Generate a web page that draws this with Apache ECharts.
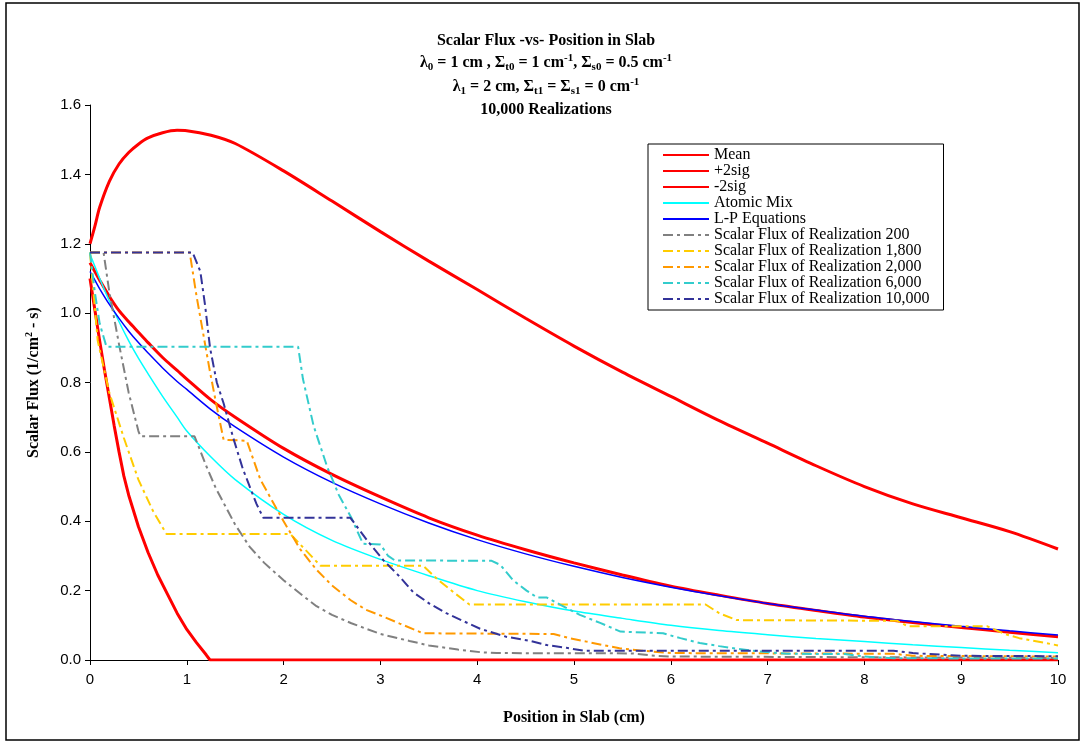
<!DOCTYPE html>
<html>
<head>
<meta charset="utf-8">
<title>Scalar Flux -vs- Position in Slab</title>
<script src="https://cdn.jsdelivr.net/npm/echarts@6/dist/echarts.min.js"></script>
<style>
html, body { margin: 0; padding: 0; background: #fff; }
#chart { width: 1084px; height: 744px; }
</style>
</head>
<body>
<div id="chart"></div>
<script>
// positions (cm) used by the smooth curves
var xGrid = [0, 0.05, 0.1, 0.2, 0.3, 0.4, 0.5, 0.6, 0.75, 0.9, 1, 1.25, 1.5, 2, 2.5, 3, 3.5, 4, 4.5, 5, 5.5, 6, 6.5, 7, 7.5, 8, 8.5, 9, 9.5, 10];
var meanFlux = [1.145, 1.12, 1.095, 1.048, 1.007, 0.975, 0.945, 0.915, 0.872, 0.835, 0.81, 0.75, 0.70, 0.61, 0.535, 0.47, 0.41, 0.36, 0.318, 0.28, 0.245, 0.213, 0.187, 0.163, 0.143, 0.124, 0.108, 0.094, 0.08, 0.067];
var plus2sig = [1.20, 1.25, 1.305, 1.38, 1.43, 1.463, 1.487, 1.505, 1.52, 1.527, 1.526, 1.513, 1.489, 1.41, 1.323, 1.235, 1.15, 1.068, 0.985, 0.905, 0.83, 0.76, 0.69, 0.625, 0.56, 0.50, 0.45, 0.41, 0.37, 0.32];
var atomicMix = [1.17, 1.135, 1.10, 1.035, 0.975, 0.92, 0.87, 0.825, 0.76, 0.70, 0.66, 0.585, 0.52, 0.42, 0.345, 0.29, 0.243, 0.20, 0.168, 0.141, 0.12, 0.10, 0.085, 0.073, 0.062, 0.053, 0.044, 0.036, 0.028, 0.021];
var lpEquations = [1.12, 1.095, 1.07, 1.025, 0.985, 0.948, 0.915, 0.885, 0.842, 0.803, 0.78, 0.722, 0.672, 0.585, 0.512, 0.45, 0.395, 0.347, 0.306, 0.27, 0.238, 0.21, 0.185, 0.163, 0.144, 0.126, 0.111, 0.097, 0.084, 0.072];

// -2sig is cut off at zero
var minus2sigX = [0, 0.05, 0.1, 0.15, 0.2, 0.25, 0.3, 0.35, 0.4, 0.5, 0.6, 0.7, 0.8, 0.9, 1.0, 1.1, 1.2, 1.24, 10];
var minus2sigY = [1.10, 1.01, 0.92, 0.835, 0.755, 0.675, 0.60, 0.53, 0.475, 0.385, 0.31, 0.245, 0.19, 0.135, 0.088, 0.05, 0.015, 0, 0];

// single realizations
var real200X = [0, 0.14, 0.2, 0.3, 0.4, 0.5, 0.52, 1.08, 1.2, 1.3, 1.5, 1.65, 1.8, 2.0, 2.2, 2.34, 2.5, 2.7, 3.0, 3.3, 3.5, 3.8, 4.05, 4.2, 5.6, 5.8, 6.0, 10];
var real200Y = [1.175, 1.175, 1.06, 0.91, 0.77, 0.66, 0.645, 0.645, 0.56, 0.495, 0.39, 0.326, 0.28, 0.23, 0.185, 0.155, 0.13, 0.106, 0.075, 0.055, 0.042, 0.03, 0.022, 0.02, 0.019, 0.013, 0.01, 0.006];

var real1800X = [0, 0.08, 0.2, 0.35, 0.5, 0.65, 0.79, 2.07, 2.2, 2.38, 3.44, 3.6, 3.78, 3.92, 6.36, 6.5, 6.68, 8.34, 8.45, 9.27, 9.45, 9.6, 9.85, 10];
var real1800Y = [1.175, 0.92, 0.77, 0.64, 0.52, 0.43, 0.363, 0.363, 0.325, 0.272, 0.272, 0.23, 0.19, 0.16, 0.16, 0.135, 0.115, 0.113, 0.097, 0.097, 0.075, 0.063, 0.05, 0.042];

var real2000X = [0, 1.03, 1.1, 1.17, 1.24, 1.31, 1.38, 1.62, 1.76, 1.9, 2.0, 2.17, 2.34, 2.5, 2.69, 2.85, 3.03, 3.2, 3.44, 4.79, 4.95, 5.13, 5.3, 5.47, 5.7, 6.0, 8.3, 8.5, 10];
var real2000Y = [1.175, 1.175, 1.05, 0.94, 0.83, 0.73, 0.635, 0.632, 0.52, 0.45, 0.40, 0.32, 0.26, 0.215, 0.173, 0.145, 0.125, 0.105, 0.077, 0.075, 0.063, 0.053, 0.043, 0.034, 0.027, 0.02, 0.018, 0.012, 0.01];

var real6000X = [0, 0.05, 0.1, 0.17, 2.15, 2.2, 2.31, 2.45, 2.57, 2.7, 2.82, 3.0, 3.08, 3.15, 4.15, 4.24, 4.37, 4.51, 4.62, 4.72, 4.86, 5.06, 5.27, 5.48, 5.5, 5.92, 6.1, 6.3, 6.5, 6.7, 6.9, 7.2, 7.8, 8.0, 8.3, 10];
var real6000Y = [1.175, 1.06, 0.97, 0.903, 0.903, 0.81, 0.675, 0.557, 0.476, 0.41, 0.335, 0.333, 0.3, 0.287, 0.286, 0.274, 0.23, 0.2, 0.18, 0.18, 0.159, 0.13, 0.107, 0.082, 0.077, 0.077, 0.063, 0.049, 0.04, 0.032, 0.025, 0.018, 0.017, 0.01, 0.005, 0.004];

var real10000X = [0, 1.06, 1.14, 1.19, 1.24, 1.31, 1.38, 1.48, 1.58, 1.72, 1.79, 2.69, 2.86, 3.03, 3.2, 3.34, 3.51, 3.68, 4.03, 4.3, 4.55, 4.72, 4.92, 5.1, 8.3, 8.5, 9.0, 10];
var real10000Y = [1.175, 1.175, 1.12, 1.02, 0.90, 0.80, 0.74, 0.64, 0.55, 0.45, 0.41, 0.41, 0.346, 0.288, 0.24, 0.195, 0.162, 0.135, 0.09, 0.067, 0.055, 0.043, 0.035, 0.027, 0.027, 0.02, 0.012, 0.011];

var serif = '"Liberation Serif", "Times New Roman", serif';
var sans = '"Liberation Sans", Arial, sans-serif';
var dashDot = [10, 4, 3, 4];

function pairs(xs, ys) {
  return xs.map(function (x, i) { return [x, ys[i]]; });
}

function solid(name, xs, ys, color, width, smooth) {
  return {
    name: name, type: 'line', data: pairs(xs, ys),
    symbol: 'none', smooth: smooth, silent: true,
    lineStyle: { color: color, width: width }, itemStyle: { color: color }
  };
}

function realization(name, xs, ys, color) {
  return {
    name: name, type: 'line', data: pairs(xs, ys),
    symbol: 'none', smooth: false, silent: true,
    lineStyle: { color: color, width: 2, type: dashDot }, itemStyle: { color: color }
  };
}

var tb = { fontFamily: serif, fontWeight: 'bold', fontSize: 16, lineHeight: 20, fill: '#000' };
var tsub = { fontFamily: serif, fontWeight: 'bold', fontSize: 11, lineHeight: 12, verticalAlign: 'bottom', fill: '#000' };
var tsup = { fontFamily: serif, fontWeight: 'bold', fontSize: 11, lineHeight: 9, verticalAlign: 'top', fill: '#000' };

function titleLine(text, y) {
  return {
    type: 'text', x: 546, y: y, silent: true,
    style: {
      text: text, rich: { b: tb, sub: tsub, sup: tsup },
      textAlign: 'center', textVerticalAlign: 'middle'
    }
  };
}

var chart = echarts.init(document.getElementById('chart'));

var option = {
  animation: false,
  backgroundColor: '#fff',
  grid: { left: 90, right: 26, top: 105, bottom: 84 },
  graphic: [
    { type: 'rect', shape: { x: 6, y: 3, width: 1073, height: 737 }, style: { fill: 'none', stroke: '#000', lineWidth: 1.5 }, silent: true },
    titleLine('{b|Scalar Flux -vs- Position in Slab}', 41),
    titleLine('{b|λ}{sub|0}{b| = 1 cm , Σ}{sub|t0}{b| = 1 cm}{sup|-1}{b|, Σ}{sub|s0}{b| = 0.5 cm}{sup|-1}', 63),
    titleLine('{b|λ}{sub|1}{b| = 2 cm, Σ}{sub|t1}{b| = Σ}{sub|s1}{b| = 0 cm}{sup|-1}', 87),
    titleLine('{b|10,000 Realizations}', 110)
  ],
  legend: {
    orient: 'vertical', left: 648, top: 144,
    padding: [3, 14, 3, 14], itemGap: 0, itemWidth: 46, itemHeight: 16,
    borderColor: '#000', borderWidth: 1, borderRadius: 0, backgroundColor: '#fff',
    itemStyle: { opacity: 0 },
    textStyle: { fontFamily: serif, fontSize: 16, color: '#000', lineHeight: 16 },
    data: ['Mean', '+2sig', '-2sig', 'Atomic Mix', 'L-P Equations',
      'Scalar Flux of Realization 200', 'Scalar Flux of Realization 1,800',
      'Scalar Flux of Realization 2,000', 'Scalar Flux of Realization 6,000',
      'Scalar Flux of Realization 10,000']
  },
  xAxis: {
    type: 'value', min: 0, max: 10, interval: 1,
    name: 'Position in Slab (cm)', nameLocation: 'middle', nameGap: 50,
    nameTextStyle: { fontFamily: serif, fontWeight: 'bold', fontSize: 16, color: '#000' },
    axisLine: { show: true, onZero: false, lineStyle: { color: '#000', width: 1 } },
    axisTick: { show: true, inside: false, length: 5, lineStyle: { color: '#000' } },
    axisLabel: { fontFamily: sans, fontSize: 15, color: '#000', margin: 12 },
    splitLine: { show: false }
  },
  yAxis: {
    type: 'value', min: 0, max: 1.6, interval: 0.2,
    name: '{t|Scalar Flux (1/cm}{s|2}{t| - s)}', nameLocation: 'middle', nameGap: 46, nameRotate: 90,
    nameTextStyle: {
      rich: {
        t: { fontFamily: serif, fontWeight: 'bold', fontSize: 16, lineHeight: 20, color: '#000' },
        s: { fontFamily: serif, fontWeight: 'bold', fontSize: 10, lineHeight: 9, verticalAlign: 'top', color: '#000' }
      }
    },
    axisLine: { show: true, lineStyle: { color: '#000', width: 1 } },
    axisTick: { show: true, inside: false, length: 5, lineStyle: { color: '#000' } },
    axisLabel: { fontFamily: sans, fontSize: 15, color: '#000', margin: 9, formatter: function (v) { return v.toFixed(1); } },
    splitLine: { show: false }
  },
  series: [
    solid('Mean', xGrid, meanFlux, '#ff0000', 3, 0.3),
    solid('+2sig', xGrid, plus2sig, '#ff0000', 3, 0.3),
    solid('-2sig', minus2sigX, minus2sigY, '#ff0000', 3, false),
    solid('Atomic Mix', xGrid, atomicMix, '#00ffff', 1.5, 0.3),
    solid('L-P Equations', xGrid, lpEquations, '#0000ff', 1.5, 0.3),
    realization('Scalar Flux of Realization 200', real200X, real200Y, '#808080'),
    realization('Scalar Flux of Realization 1,800', real1800X, real1800Y, '#ffcc00'),
    realization('Scalar Flux of Realization 2,000', real2000X, real2000Y, '#ff9900'),
    realization('Scalar Flux of Realization 6,000', real6000X, real6000Y, '#33cccc'),
    realization('Scalar Flux of Realization 10,000', real10000X, real10000Y, '#333399')
  ]
};

chart.setOption(option);
window.addEventListener('resize', function () { chart.resize(); });
</script>
</body>
</html>
